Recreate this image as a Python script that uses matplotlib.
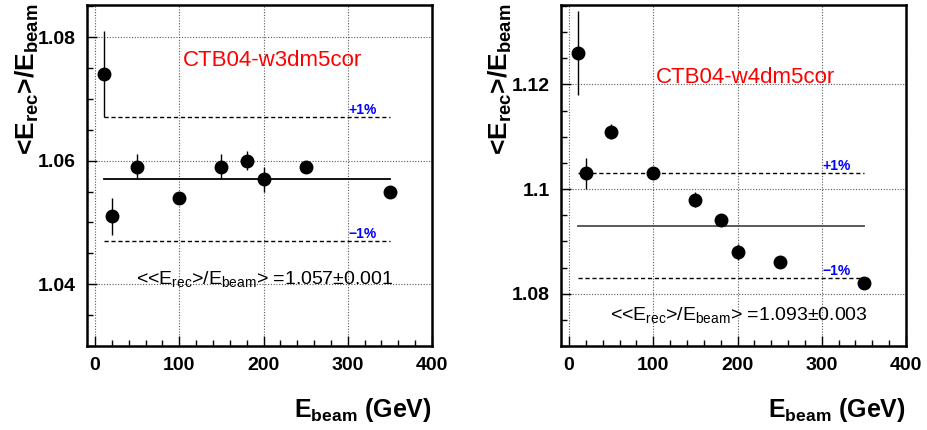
import matplotlib
matplotlib.use("Agg")
import matplotlib.pyplot as plt
from matplotlib.ticker import MultipleLocator

plt.rcParams['font.family'] = ['Liberation Sans', 'DejaVu Sans']
plt.rcParams['mathtext.fontset'] = 'custom'
plt.rcParams['mathtext.rm'] = 'Liberation Sans'
plt.rcParams['mathtext.bf'] = 'Liberation Sans:bold'
plt.rcParams['mathtext.it'] = 'Liberation Sans'

# Data
energies = [10, 20, 50, 100, 150, 180, 200, 250, 350]

w3_values = [1.074, 1.051, 1.059, 1.054, 1.059, 1.060, 1.057, 1.059, 1.055]
w3_errors = [0.007, 0.003, 0.002, 0.0007, 0.002, 0.0015, 0.002, 0.0006, 0.0006]
w3_mean = 1.057
w3_band = (1.047, 1.067)
w3_title = "CTB04-w3dm5cor"
w3_text = r"<<E$_{\mathregular{rec}}$>/E$_{\mathregular{beam}}$> =1.057±0.001"

w4_values = [1.126, 1.103, 1.111, 1.103, 1.098, 1.094, 1.088, 1.086, 1.082]
w4_errors = [0.008, 0.003, 0.0015, 0.0007, 0.0015, 0.0008, 0.0015, 0.0007, 0.0007]
w4_mean = 1.093
w4_band = (1.083, 1.103)
w4_title = "CTB04-w4dm5cor"
w4_text = r"<<E$_{\mathregular{rec}}$>/E$_{\mathregular{beam}}$> =1.093±0.003"

ylabel_text = r"<E$_{\mathbf{rec}}$>/E$_{\mathbf{beam}}$"
xlabel_text = r"E$_{\mathbf{beam}}$ (GeV)"

fig = plt.figure(figsize=(9.27, 4.30), dpi=100)
W, H = 927, 430

def make_panel(left_px, values, errors, mean, band, title, text, ylim, yticks,
               title_pos, text_pos, ylabel_x, mean_color):
    ax = fig.add_axes([left_px / W, (H - 346) / H, 345.3 / W, 341 / H])
    ax.set_xlim(-10, 400)
    ax.set_ylim(*ylim)
    ax.xaxis.set_major_locator(MultipleLocator(100))
    ax.xaxis.set_minor_locator(MultipleLocator(20))
    ax.set_yticks(yticks)
    ax.yaxis.set_minor_locator(MultipleLocator(0.005))
    ax.tick_params(axis='both', which='both', direction='in', top=False, right=False)
    ax.tick_params(axis='both', which='major', length=7, width=1, labelsize=14, pad=8)
    ax.tick_params(axis='both', which='minor', length=4, width=1)
    ax.set_xticklabels([str(int(t)) for t in ax.get_xticks()], fontweight='bold')
    ax.set_yticklabels([f"{t:g}" for t in yticks], fontweight='bold')
    for s in ax.spines.values():
        s.set_linewidth(1.8)
    ax.grid(True, which='major', linestyle=(0, (1, 1.5)), color='0.35', linewidth=0.8)
    ax.set_axisbelow(True)

    x0, x1 = energies[0], energies[-1]
    ax.plot([x0, x1], [mean, mean], color=mean_color, lw=1.3)
    ax.plot([x0, x1], [band[1], band[1]], color='black', lw=1.0, ls=(0, (3, 2)))
    ax.plot([x0, x1], [band[0], band[0]], color='black', lw=1.0, ls=(0, (3, 2)))
    ax.text(301, band[1], "+1%", color='blue', fontsize=10, fontweight='bold',
            ha='left', va='bottom')
    ax.text(301, band[0], "\u22121%", color='blue', fontsize=10, fontweight='bold',
            ha='left', va='bottom')

    ax.errorbar(energies, values, yerr=errors, fmt='o', color='black',
                markersize=9, elinewidth=1, capsize=0, zorder=5)

    ax.text(title_pos[0], title_pos[1], title, color='red', fontsize=16,
            ha='center', va='center')
    ax.text(text_pos[0], text_pos[1], text, color='black', fontsize=14,
            ha='center', va='center')

    fig.text(ylabel_x / W, (H - 4) / H, ylabel_text, fontweight='bold',
             rotation=90, ha='center', va='top', fontsize=19)
    fig.text((left_px + 345.3) / W, (H - 410) / H, xlabel_text,
             ha='right', va='center', fontsize=18, fontweight='bold')
    return ax

make_panel(86.7, w3_values, w3_errors, w3_mean, w3_band, w3_title, w3_text,
           (1.030, 1.0852), [1.04, 1.06, 1.08], (211, 1.0762), (201, 1.0408),
           27, 'black')
make_panel(560.7, w4_values, w4_errors, w4_mean, w4_band, w4_title, w4_text,
           (1.070, 1.1352), [1.08, 1.1, 1.12], (210, 1.1213), (202, 1.076),
           500, '0.3')

fig.savefig("out.png", dpi=100)
